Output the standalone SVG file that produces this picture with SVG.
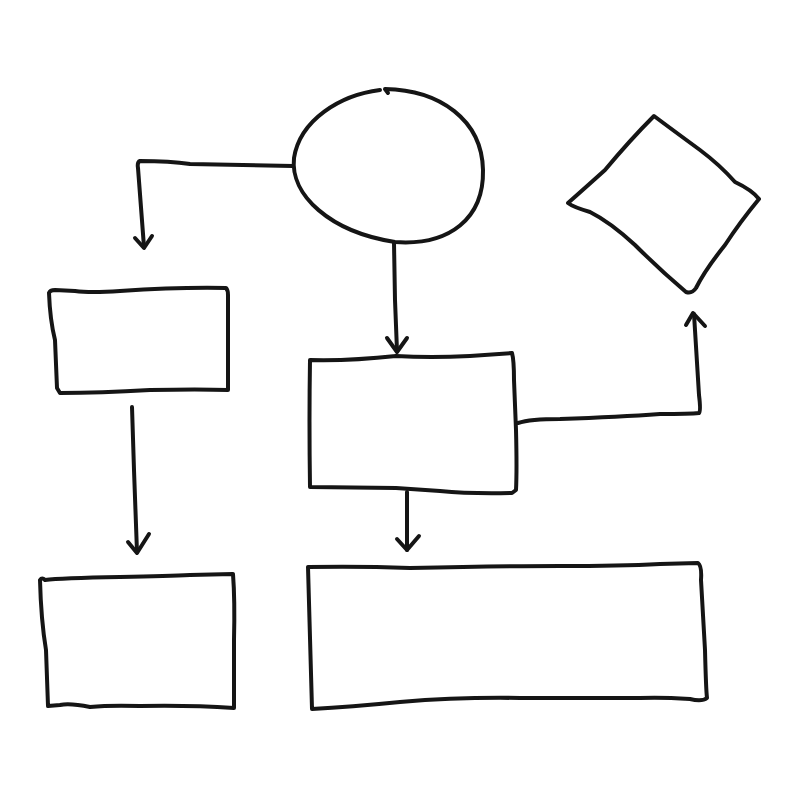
<svg xmlns="http://www.w3.org/2000/svg" width="800" height="800" viewBox="0 0 800 800">
<style>
.s{fill:none;stroke:#151515;stroke-width:4;stroke-linecap:round;stroke-linejoin:round}
</style>
<rect width="800" height="800" fill="#ffffff"/>
<g id="start">
<path class="s" d="M380,90 C340,95 300,120 294,158 C290,195 330,232 395,242 C450,246 484,218 483,170 C482,120 440,90 385,89 L388,93"/>
</g>
<g id="box-left-top">
<path class="s" d="M49,293 Q50,290 55,290 L75,291 Q90,293 120,291 Q180,287 226,288 Q228,290 228,295 L228,390 Q200,389 150,390 Q100,393 60,393 L57,388 L55,340 Q50,320 49,293 Z"/>
</g>
<g id="box-middle">
<path class="s" d="M310,360 Q350,361 396,356 Q430,358 470,356 L512,353 Q514,360 514,380 L516,430 Q517,470 516,490 L512,493 Q470,494 440,491 Q410,489 396,488 L310,487 Q309,420 310,360 Z"/>
</g>
<g id="decision">
<path class="s" d="M654,116 Q670,128 700,150 Q720,165 735,182 Q752,190 759,199 Q740,222 725,245 Q705,270 696,288 Q692,294 686,292 Q660,270 635,245 Q610,222 590,212 Q573,207 568,203 Q585,188 605,170 Q630,140 654,116 Z"/>
</g>
<g id="box-left-bottom">
<path class="s" d="M40,580 Q42,577 45,580 Q60,578 120,577 Q170,576 190,575 L233,574 Q235,600 234,640 L234,708 Q190,705 140,706 Q110,705 90,707 Q70,703 60,705 L48,706 L46,650 Q41,620 40,580 Z"/>
</g>
<g id="box-right-bottom">
<path class="s" d="M308,567 Q360,566 410,568 Q500,566 560,566 Q620,566 660,564 L698,563 Q702,566 701,580 L705,650 Q706,690 707,698 Q702,702 690,699 Q660,697 640,698 Q590,698 520,698 Q460,697 400,702 Q350,707 312,709 Q310,640 308,567 Z"/>
</g>
<g id="connectors">
<path class="s" d="M293,166 Q230,165 190,164 Q170,161 140,161 Q137,162 138,168 L144,247"/>
<path class="s" d="M135,238 L144,248 L152,236"/>
<path class="s" d="M394,243 L395,300 L397,351"/>
<path class="s" d="M387,338 L397,352 L407,338"/>
<path class="s" d="M132,407 L134,470 L137,552"/>
<path class="s" d="M128,542 L137,553 L149,534"/>
<path class="s" d="M407,492 L407,550"/>
<path class="s" d="M397,539 L407,550 L419,536"/>
<path class="s" d="M518,423 Q530,419 560,419 Q620,417 660,414 Q690,414 699,413 Q701,411 699,395 L694,314"/>
<path class="s" d="M686,325 L693,313 L705,326"/>
</g>
</svg>
